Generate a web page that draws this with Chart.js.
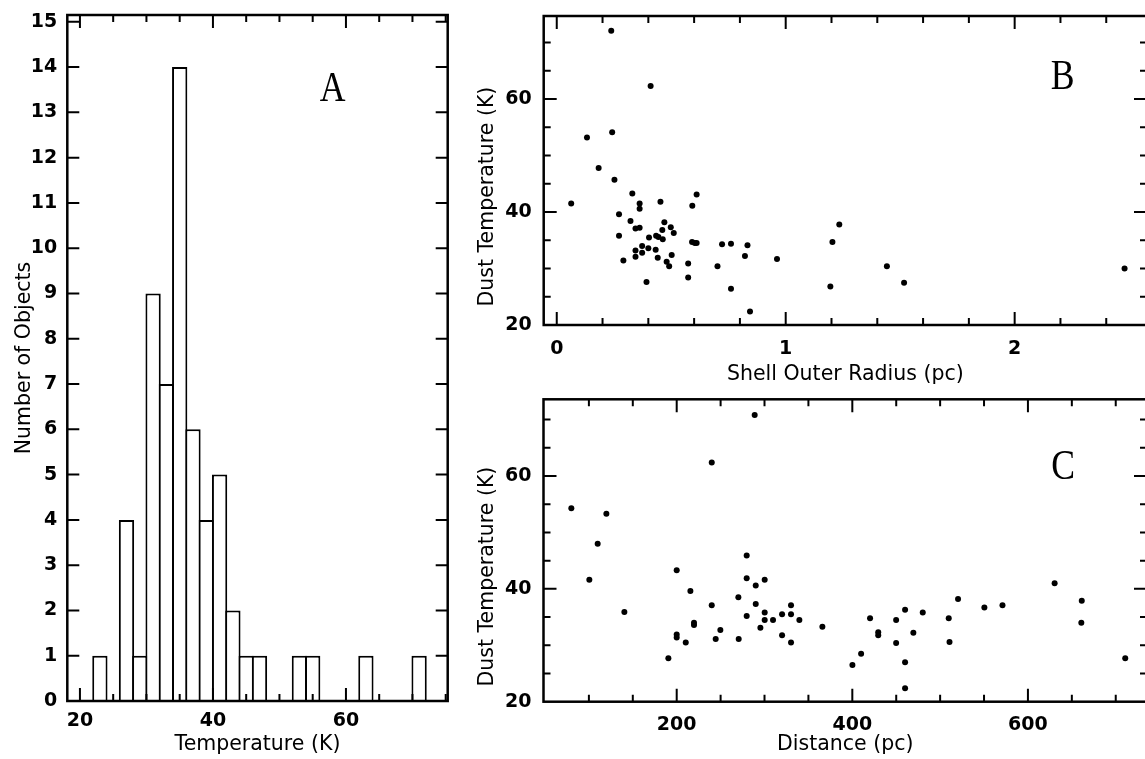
<!DOCTYPE html>
<html><head><meta charset="utf-8">
<script src="https://cdn.jsdelivr.net/npm/chart.js@4.4.1/dist/chart.umd.min.js"></script>
<style>
html,body{margin:0;padding:0;background:#fff;overflow:hidden;width:1145px;height:759px}
#wrap{position:relative;width:1145px;height:759px;overflow:hidden;background:#fff}
canvas{position:absolute}
</style></head><body>
<div id="wrap">
<canvas id="cA" width="470" height="759" style="left:0;top:0"></canvas>
<canvas id="cB" width="700" height="387" style="left:470px;top:0"></canvas>
<canvas id="cC" width="700" height="379" style="left:470px;top:380px"></canvas>
</div>
<script>
// ---- Panel A: histogram of dust temperature ----
const histBinCenters = [23, 27, 29, 31, 33, 35, 37, 39, 41, 43, 45, 47, 53, 55, 63, 71];
const histCounts     = [1, 4, 1, 9, 7, 14, 6, 4, 5, 2, 1, 1, 1, 1, 1, 1];
const histXTicks = [20, 40, 60];
const histXMinor = [25, 30, 35, 45, 50, 55, 65, 70, 75];
const histYTicks = [0,1,2,3,4,5,6,7,8,9,10,11,12,13,14,15];

// ---- Panel B: dust temperature vs shell outer radius ----
const radiusPc = [0.410,0.132,0.242,0.183,0.252,0.063,0.330,0.362,0.362,0.453,
  0.611,0.592,0.272,0.322,0.344,0.362,0.470,0.461,0.498,0.511,
  0.272,0.403,0.434,0.444,0.463,0.591,0.603,0.611,0.722,0.761,
  0.833,0.373,0.344,0.400,0.432,0.373,0.344,0.441,0.502,0.291,
  0.480,0.491,0.574,0.702,0.822,0.962,0.392,0.574,0.761,0.844,
  1.195,1.204,1.234,1.442,1.517,2.48,0.238];
const radiusTemp = [62.3,53.2,54.1,47.8,45.7,41.5,43.3,41.5,40.6,41.8,
  43.1,41.1,39.6,38.4,37.1,37.2,38.2,36.8,37.3,36.3,
  35.8,35.5,35.8,35.6,35.2,34.7,34.5,34.5,34.3,34.4,
  34.1,34.0,33.2,33.6,33.3,32.8,32.1,31.9,32.4,31.4,
  31.2,30.4,30.9,30.4,32.2,31.7,27.6,28.4,26.4,22.4,
  26.8,34.7,37.8,30.4,27.5,30.0,72.1];
const radiusXTicks = [0, 1, 2];
const radiusXMinor = [0.2,0.4,0.6,0.8,1.2,1.4,1.6,1.8,2.2,2.4];

// ---- Panel C: dust temperature vs distance ----
const distancePc = [80.0,119.9,110.0,100.5,140.4,239.9,200,215.6,200,200,
  210.3,219.7,219.7,190.5,239.9,244.4,249.7,270.2,270.6,279.7,
  279.7,279.7,290.0,290.0,295.3,300.2,300.2,300.2,309.7,320.0,
  320.0,330.2,330.2,330.2,339.7,365.9,400.1,410.0,420.2,429.5,
  429.5,288.8,449.9,460.1,449.9,460.1,460.1,469.5,480.2,509.8,
  510.7,520.4,550.4,571.0,630.4,661.3,660.8,710.8];
const distanceTemp = [54.3,53.3,48.0,41.6,35.9,62.4,43.3,39.6,31.9,31.4,
  30.5,34.0,33.6,27.7,37.1,31.1,32.7,38.5,31.1,45.9,
  41.9,35.2,40.6,37.3,33.1,41.6,35.8,34.5,34.5,35.5,
  31.8,37.1,35.5,30.5,34.5,33.3,26.5,28.5,34.8,32.3,
  31.8,70.8,34.5,36.3,30.4,27.0,22.4,32.2,35.8,34.8,
  30.6,38.2,36.7,37.1,41.0,37.9,34.0,27.7];
const distanceXTicks = [200, 400, 600];
const distanceXMinor = [100,150,250,300,350,450,500,550,650,700];

const tempYTicks = [20, 40, 60];
const tempYMinor = [25,30,35,45,50,55,65,70];

// ---- frame + inward tick plugin ----
const framePlugin = {
  id: 'frame',
  afterDraw(chart, args, o) {
    const {ctx, chartArea: {left, right, top, bottom}, scales: {x, y}} = chart;
    ctx.save();
    ctx.strokeStyle = '#000';
    ctx.lineWidth = 2;
    const tick = (vals, len, axis) => {
      vals.forEach(v => {
        if (axis === 'x') {
          const p = x.getPixelForValue(v);
          if (p < left + 1 || p > right - 1) return;
          ctx.beginPath();
          ctx.moveTo(p, bottom); ctx.lineTo(p, bottom - len);
          ctx.moveTo(p, top); ctx.lineTo(p, top + len);
          ctx.stroke();
        } else {
          const p = y.getPixelForValue(v);
          if (p < top + 1 || p > bottom - 1) return;
          ctx.beginPath();
          ctx.moveTo(left, p); ctx.lineTo(left + len, p);
          ctx.moveTo(right, p); ctx.lineTo(right - len, p);
          ctx.stroke();
        }
      });
    };
    tick(o.xMajor, o.majorLen, 'x');
    tick(o.xMinor, o.minorLen, 'x');
    tick(o.yMajor, o.majorLenY, 'y');
    tick(o.yMinor, o.minorLen, 'y');
    ctx.lineWidth = 2.5;
    ctx.strokeRect(left, top, right - left, bottom - top);
    // panel letter
    ctx.fillStyle = '#000';
    ctx.font = '42px "Liberation Serif", "DejaVu Serif", serif';
    ctx.textAlign = 'center';
    ctx.textBaseline = 'middle';
    const lx = x.getPixelForValue(o.letter.x), ly = y.getPixelForValue(o.letter.y);
    ctx.translate(lx, ly);
    ctx.scale(0.85, 1);
    ctx.fillText(o.letter.text, 0, 0);
    ctx.restore();
  }
};

const tickFont = {family: '"DejaVu Sans", sans-serif', size: 19, weight: 'bold'};
const titleFont = {family: '"DejaVu Sans", sans-serif', size: 20.5, weight: 'normal'};
const NB = '\u00a0';

function xScale(min, max, ticks, height, pad, title, titlePadBottom) {
  return {
    type: 'linear', min, max, offset: false,
    grid: {display: false, drawTicks: false}, border: {display: false},
    afterBuildTicks: s => { s.ticks = ticks.map(v => ({value: v})); },
    afterFit: s => { s.height = height; s.paddingLeft = 0; s.paddingRight = 0; },
    ticks: {font: tickFont, color: '#000', padding: pad, maxRotation: 0, autoSkip: false},
    title: {display: true, text: title, font: titleFont, color: '#000', padding: {top: 0, bottom: titlePadBottom}}
  };
}
function yScale(min, max, ticks, width, pad, title, titlePadTop) {
  return {
    type: 'linear', min, max,
    grid: {display: false, drawTicks: false}, border: {display: false},
    afterBuildTicks: s => { s.ticks = ticks.map(v => ({value: v})); },
    afterFit: s => { s.width = width; s.paddingTop = 0; s.paddingBottom = 0; },
    ticks: {font: tickFont, color: '#000', padding: pad, autoSkip: false},
    title: {display: true, text: title, font: titleFont, color: '#000', padding: {top: titlePadTop, bottom: 0}}
  };
}

Chart.defaults.font.family = '"DejaVu Sans", sans-serif';

new Chart(document.getElementById('cA'), {
  type: 'bar',
  data: {datasets: [{
    data: histBinCenters.map((c, i) => ({x: c, y: histCounts[i]})),
    backgroundColor: '#fff', borderColor: '#000', borderWidth: 2,
    barPercentage: 1.15, categoryPercentage: 1
  }]},
  options: {
    responsive: false, animation: false, events: [],
    layout: {padding: {left: 0, right: 22.3, top: 15, bottom: 0}},
    plugins: {
      legend: {display: false}, tooltip: {enabled: false},
      frame: {xMajor: histXTicks, xMinor: histXMinor, yMajor: histYTicks, yMinor: [],
              majorLen: 13, majorLenY: 12, minorLen: 7, letter: {text: 'A', x: 58, y: 13.5}}
    },
    scales: {
      x: xScale(18.1, 75.3, histXTicks, 58, 9, 'Temperature (K)', 2),
      y: yScale(0, 15.15, histYTicks, 67.3, 10, 'Number of Objects', 12)
    }
  },
  plugins: [framePlugin]
});

new Chart(document.getElementById('cB'), {
  type: 'scatter',
  data: {datasets: [{
    data: radiusPc.map((r, i) => ({x: r, y: radiusTemp[i]})),
    pointRadius: 3, pointBackgroundColor: '#000', pointBorderWidth: 0
  }]},
  options: {
    responsive: false, animation: false, events: [],
    layout: {padding: {left: 0, right: 23, top: 16, bottom: 0}},
    plugins: {
      legend: {display: false}, tooltip: {enabled: false},
      frame: {xMajor: radiusXTicks, xMinor: radiusXMinor, yMajor: tempYTicks, yMinor: tempYMinor,
              majorLen: 13, majorLenY: 13, minorLen: 7, letter: {text: 'B', x: 2.21, y: 63.7}}
    },
    scales: {
      x: xScale(-0.057, 2.578, radiusXTicks, 62, 13, 'Shell Outer Radius (pc)', 0),
      y: yScale(20, 74.7, tempYTicks, 73.7, 12, 'Dust Temperature (K)' + NB.repeat(8), 5)
    }
  },
  plugins: [framePlugin]
});

new Chart(document.getElementById('cC'), {
  type: 'scatter',
  data: {datasets: [{
    data: distancePc.map((d, i) => ({x: d, y: distanceTemp[i]})),
    pointRadius: 3, pointBackgroundColor: '#000', pointBorderWidth: 0
  }]},
  options: {
    responsive: false, animation: false, events: [],
    layout: {padding: {left: 0, right: 23, top: 19.3, bottom: 0}},
    plugins: {
      legend: {display: false}, tooltip: {enabled: false},
      frame: {xMajor: distanceXTicks, xMinor: distanceXMinor, yMajor: tempYTicks, yMinor: tempYMinor,
              majorLen: 13, majorLenY: 13, minorLen: 7, letter: {text: 'C', x: 640, y: 61.4}}
    },
    scales: {
      x: xScale(48.3, 735.6, distanceXTicks, 57.3, 12, 'Distance (pc)', 2),
      y: yScale(20, 73.6, tempYTicks, 73.5, 12, 'Dust Temperature (K)' + NB.repeat(8), 5)
    }
  },
  plugins: [framePlugin]
});
</script>
</body></html>
